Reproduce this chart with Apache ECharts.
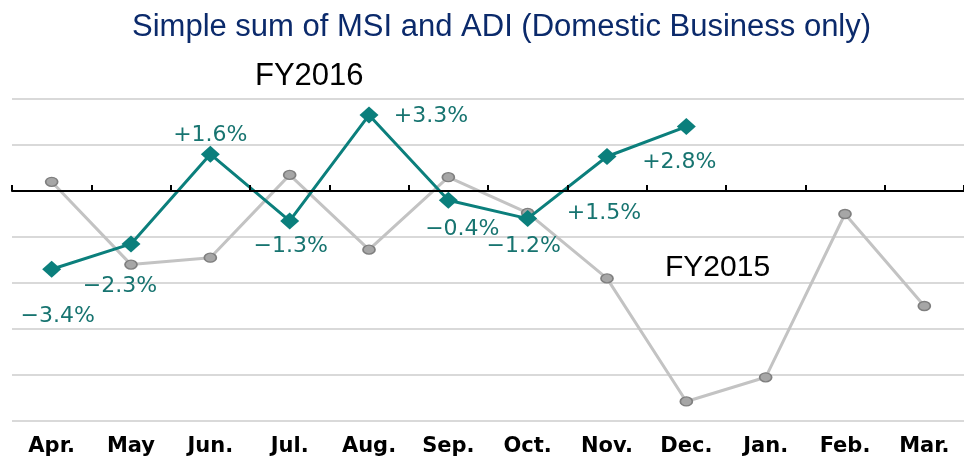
<!DOCTYPE html>
<html>
<head>
<meta charset="utf-8">
<style>
  html, body { margin: 0; padding: 0; background: #fff; }
  #chart { width: 964px; height: 457px; }
</style>
<script src="https://cdn.jsdelivr.net/npm/echarts@6/dist/echarts.min.js"></script>
</head>
<body>
<div id="chart"></div>
<script>
'use strict'
var months = ['Apr.', 'May', 'Jun.', 'Jul.', 'Aug.', 'Sep.', 'Oct.', 'Nov.', 'Dec.', 'Jan.', 'Feb.', 'Mar.'];
var fy2016 = [-3.4, -2.3, 1.6, -1.3, 3.3, -0.4, -1.2, 1.5, 2.8, null, null, null];
var fy2015 = [0.4, -3.2, -2.9, 0.7, -2.55, 0.6, -0.95, -3.8, -9.15, -8.1, -1.0, -5.0];
// where each FY2016 label sits, relative to its point
var labelOffsets = [[6, 47], [-11, 42], [0, -19], [1, 25], [62, 1], [14, 29], [-4, 28], [-3, 57], [-7, 36]];

var teal = '#0b7f7c';

function pct(v) {
  var s = v > 0 ? '+' : (v < 0 ? '\u2212' : '');
  return s + Math.abs(v).toFixed(1) + '%';
}

var chart = echarts.init(document.getElementById('chart'));

chart.setOption({
  animation: false,
  title: {
    text: 'Simple sum of MSI and ADI (Domestic Business only)',
    left: 127,
    top: 7,
    textStyle: {
      fontFamily: 'Liberation Sans',
      fontSize: 31,
      fontWeight: 'normal',
      color: '#0b2a6b'
    }
  },
  graphic: [
    { type: 'text', left: 255, top: 61, style: { text: 'FY2016', font: '31px "Liberation Sans"', fill: '#000' } },
    { type: 'text', left: 665, top: 253, style: { text: 'FY2015', font: '30px "Liberation Sans"', fill: '#000' } }
  ],
  grid: {
    left: 12,
    top: 99,
    right: -6,
    height: 324
  },
  xAxis: [
    {
      type: 'category',
      data: months,
      axisLine: { onZero: true, lineStyle: { color: '#000', width: 2 } },
      axisTick: { show: true, inside: true, length: 6, lineStyle: { color: '#000', width: 2 } },
      axisLabel: { show: false },
      z: 5
    },
    {
      type: 'category',
      data: months,
      position: 'bottom',
      axisLine: { show: false, onZero: false },
      axisTick: { show: false },
      axisLabel: {
        margin: 15,
        fontFamily: 'DejaVu Sans',
        fontWeight: 'bold',
        fontSize: 21,
        color: '#000'
      }
    }
  ],
  yAxis: {
    type: 'value',
    min: -10,
    max: 4,
    interval: 2,
    axisLine: { show: false },
    axisTick: { show: false },
    axisLabel: { show: false },
    splitLine: { lineStyle: { color: '#d9d9d9', width: 2 } }
  },
  series: [
    {
      name: 'FY2015',
      type: 'line',
      data: fy2015,
      symbol: 'circle',
      symbolSize: [12, 9],
      lineStyle: { color: '#c3c3c3', width: 3 },
      itemStyle: { color: '#a6a6a6', borderColor: '#7f7f7f', borderWidth: 1.5 },
      z: 2
    },
    {
      name: 'FY2016',
      type: 'line',
      data: fy2016.map(function (v, i) {
        if (v === null) return null;
        return {
          value: v,
          label: { offset: labelOffsets[i] }
        };
      }),
      symbol: 'diamond',
      symbolSize: [19, 17],
      lineStyle: { color: teal, width: 3 },
      itemStyle: { color: teal },
      label: {
        show: true,
        position: 'inside',
        align: 'center',
        verticalAlign: 'middle',
        formatter: function (p) { return pct(p.value); },
        fontFamily: 'DejaVu Sans',
        fontSize: 22,
        color: '#177470'
      },
      z: 3
    }
  ]
});
</script>
</body>
</html>
